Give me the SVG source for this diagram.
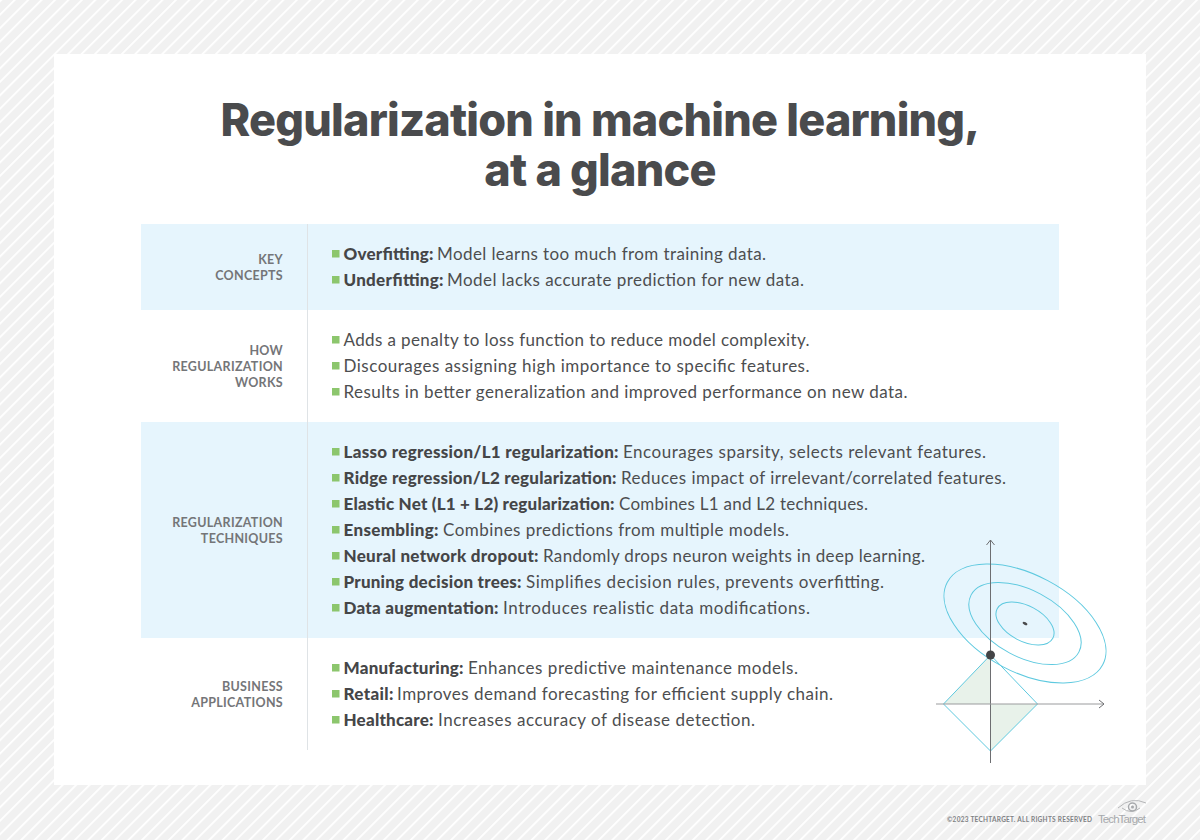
<svg xmlns="http://www.w3.org/2000/svg" width="1200" height="840" viewBox="0 0 1200 840">
<style>
.t{font-family:"Lato","Liberation Sans",sans-serif;font-size:17px;fill:#4d4e50}
.t .s{font-weight:900;fill:#454648}
.l{font-family:"Lato","Liberation Sans",sans-serif;font-size:12.5px;font-weight:700;fill:#747578;text-anchor:end;letter-spacing:.3px}
.h{font-family:"Inter","Liberation Sans",sans-serif;font-size:45px;font-weight:800;fill:#4a4b4d;text-anchor:middle;letter-spacing:-.8px}
.b{fill:#8cc66d}
.c{fill:none;stroke:#5ec9df;stroke-width:1}
</style>
<defs>
<pattern id="st" width="9.500" height="9.500" patternUnits="userSpaceOnUse" patternTransform="rotate(45)">
<rect width="9.500" height="9.500" fill="#f1f1f1"/><rect width="1.800" height="9.500" fill="#fff"/>
</pattern>
<marker id="ah" markerWidth="10" markerHeight="10" refX="7" refY="5" orient="auto" markerUnits="userSpaceOnUse"><path d="M2 1L7 5L2 9" fill="none" stroke="#6d6e71" stroke-width="1"/></marker>
</defs>
<rect width="1200" height="840" fill="url(#st)"/>
<rect x="54" y="54" width="1092" height="731" fill="#fff"/>
<g id="title"><text class="h" x="600" y="136">Regularization in machine learning,</text><text class="h" x="600" y="186">at a glance</text></g>
<g id="bands"><rect x="141" y="224" width="918" height="86" fill="#e6f5fd"/><rect x="141" y="422" width="918" height="216" fill="#e6f5fd"/><line x1="307.500" y1="224" x2="307.500" y2="750" stroke="#dfe3e6"/></g>
<g id="key-concepts"><text class="l" x="283" y="264">KEY</text><text class="l" x="283" y="280">CONCEPTS</text>
<rect class="b" x="332" y="250" width="7.500" height="7.500"/><text class="t" y="260"><tspan class="s" x="343.500" textLength="90">Overfitting:</tspan><tspan x="437" textLength="329">Model learns too much from training data.</tspan></text>
<rect class="b" x="332" y="276" width="7.500" height="7.500"/><text class="t" y="286"><tspan class="s" x="343.500" textLength="100">Underfitting:</tspan><tspan x="447" textLength="357">Model lacks accurate prediction for new data.</tspan></text></g>
<g id="how-regularization-works"><text class="l" x="283" y="355">HOW</text><text class="l" x="283" y="371">REGULARIZATION</text><text class="l" x="283" y="387">WORKS</text>
<rect class="b" x="332" y="336" width="7.500" height="7.500"/><text class="t" x="343.500" y="346" textLength="466">Adds a penalty to loss function to reduce model complexity.</text>
<rect class="b" x="332" y="362" width="7.500" height="7.500"/><text class="t" x="343.500" y="372" textLength="466">Discourages assigning high importance to specific features.</text>
<rect class="b" x="332" y="388" width="7.500" height="7.500"/><text class="t" x="343.500" y="398" textLength="564">Results in better generalization and improved performance on new data.</text></g>
<g id="regularization-techniques"><text class="l" x="283" y="527">REGULARIZATION</text><text class="l" x="283" y="543">TECHNIQUES</text>
<rect class="b" x="332" y="448" width="7.500" height="7.500"/><text class="t" y="458"><tspan class="s" x="343.500" textLength="275">Lasso regression/L1 regularization:</tspan><tspan x="623" textLength="363">Encourages sparsity, selects relevant features.</tspan></text>
<rect class="b" x="332" y="474" width="7.500" height="7.500"/><text class="t" y="484"><tspan class="s" x="343.500" textLength="273">Ridge regression/L2 regularization:</tspan><tspan x="621" textLength="385">Reduces impact of irrelevant/correlated features.</tspan></text>
<rect class="b" x="332" y="500" width="7.500" height="7.500"/><text class="t" y="510"><tspan class="s" x="343.500" textLength="271">Elastic Net (L1 + L2) regularization:</tspan><tspan x="619" textLength="249">Combines L1 and L2 techniques.</tspan></text>
<rect class="b" x="332" y="526" width="7.500" height="7.500"/><text class="t" y="536"><tspan class="s" x="343.500" textLength="95">Ensembling:</tspan><tspan x="443" textLength="346">Combines predictions from multiple models.</tspan></text>
<rect class="b" x="332" y="552" width="7.500" height="7.500"/><text class="t" y="562"><tspan class="s" x="343.500" textLength="195">Neural network dropout:</tspan><tspan x="543" textLength="382">Randomly drops neuron weights in deep learning.</tspan></text>
<rect class="b" x="332" y="578" width="7.500" height="7.500"/><text class="t" y="588"><tspan class="s" x="343.500" textLength="178">Pruning decision trees:</tspan><tspan x="526" textLength="358">Simplifies decision rules, prevents overfitting.</tspan></text>
<rect class="b" x="332" y="604" width="7.500" height="7.500"/><text class="t" y="614"><tspan class="s" x="343.500" textLength="155">Data augmentation:</tspan><tspan x="503" textLength="307">Introduces realistic data modifications.</tspan></text></g>
<g id="business-applications"><text class="l" x="283" y="691">BUSINESS</text><text class="l" x="283" y="707">APPLICATIONS</text>
<rect class="b" x="332" y="664" width="7.500" height="7.500"/><text class="t" y="674"><tspan class="s" x="343.500" textLength="120">Manufacturing:</tspan><tspan x="468" textLength="330">Enhances predictive maintenance models.</tspan></text>
<rect class="b" x="332" y="690" width="7.500" height="7.500"/><text class="t" y="700"><tspan class="s" x="343.500" textLength="50">Retail:</tspan><tspan x="397" textLength="436">Improves demand forecasting for efficient supply chain.</tspan></text>
<rect class="b" x="332" y="716" width="7.500" height="7.500"/><text class="t" y="726"><tspan class="s" x="343.500" textLength="90">Healthcare:</tspan><tspan x="438" textLength="317">Increases accuracy of disease detection.</tspan></text></g>
<g id="chart">
<path d="M943.500 704L990.500 655V704Z M1037.500 704L990.500 751V704Z" fill="#e8f2ea"/>
<path class="c" d="M943.500 704L990.500 655L1037.500 704L990.500 751Z"/>
<g transform="rotate(28 1025 623.500)"><ellipse class="c" cx="1025" cy="623.500" rx="88" ry="48.500"/><ellipse class="c" cx="1025" cy="623.500" rx="61" ry="33.300"/><ellipse class="c" cx="1025" cy="623.500" rx="31.500" ry="17.700"/><ellipse cx="1025" cy="623.500" rx="2.600" ry="1.300" fill="#4a4b4d"/></g>
<g id="connectors"><line x1="990.500" y1="763" x2="990.500" y2="540" stroke="#6d6e71" marker-end="url(#ah)"/><line x1="936" y1="704" x2="1104" y2="704" stroke="#9a9b9d" marker-end="url(#ah)"/></g>
<circle cx="990.500" cy="655" r="4.500" fill="#434446"/>
</g>
<g id="footer"><text x="947" y="822" font-family="Lato,'Liberation Sans',sans-serif" font-size="6.500" font-weight="700" fill="#808285" textLength="145">©2023 TECHTARGET. ALL RIGHTS RESERVED</text>
<text x="1098" y="823" font-family="'Liberation Sans',sans-serif" font-size="11.500" fill="#a7a9ac" textLength="48">TechTarget</text>
<path d="M1118 808Q1131 796 1146 803M1122 808Q1131 815 1140 808" fill="none" stroke="#b5b6b8" stroke-width="1"/><circle cx="1132.500" cy="807" r="4" fill="none" stroke="#a7a9ac" stroke-width="1.500"/><circle cx="1132.500" cy="807" r="1.500" fill="#a7a9ac"/></g>
</svg>
